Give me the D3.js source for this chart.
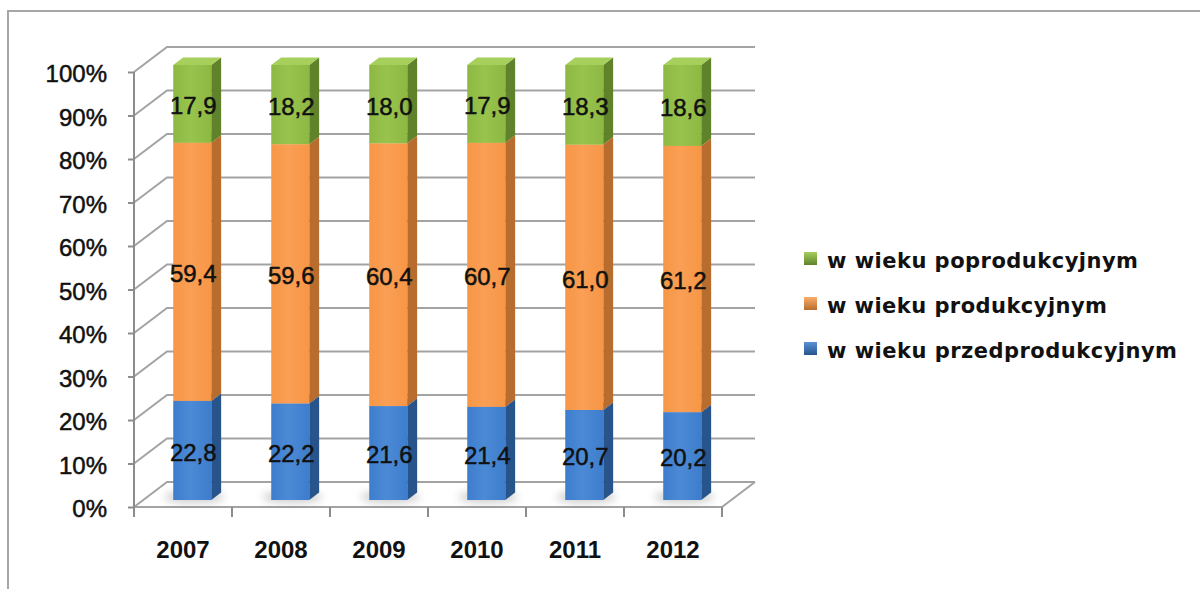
<!DOCTYPE html>
<html>
<head>
<meta charset="utf-8">
<script src="https://cdn.jsdelivr.net/npm/d3@7"></script>
<style>
  body { margin: 0; background: #fff; }
  svg { display: block; }
</style>
</head>
<body>
<div id="chart"></div>
<script>
// data
var years = ["2007", "2008", "2009", "2010", "2011", "2012"];
var przedprodukcyjny = [22.8, 22.2, 21.6, 21.4, 20.7, 20.2];
var produkcyjny = [59.4, 59.6, 60.4, 60.7, 61.0, 61.2];
var poprodukcyjny = [17.9, 18.2, 18.0, 17.9, 18.3, 18.6];
var seriesNames = ["w wieku przedprodukcyjnym", "w wieku produkcyjnym", "w wieku poprodukcyjnym"];
var yTicks = [0, 10, 20, 30, 40, 50, 60, 70, 80, 90, 100];

var W = 1200, H = 589;
var depthX = 33, depthY = 25;        // full floor depth
var barDepthStart = 0.28, barDepth = 0.3;

var colors = [
  { front: "#3d7dcc", light: "#4c8ad6", side: "#28548c", top: "#5a93d8" },
  { front: "#f79646", light: "#fa9f55", side: "#b86d2e", top: "#fbad6c" },
  { front: "#8cb843", light: "#98c44e", side: "#5f822a", top: "#a6cf5c" }
];

var svg = d3.select("#chart").append("svg")
    .attr("width", W)
    .attr("height", H)
    .style("font-family", "'Liberation Sans', Arial, sans-serif");

var defs = svg.append("defs");
defs.append("filter").attr("id", "blur")
    .attr("x", "-50%").attr("y", "-50%").attr("width", "200%").attr("height", "200%")
    .append("feGaussianBlur").attr("stdDeviation", 4);

colors.forEach(function (c, i) {
  var g = defs.append("linearGradient").attr("id", "front" + i)
      .attr("x1", 0).attr("x2", 1).attr("y1", 0).attr("y2", 0);
  g.append("stop").attr("offset", "0%").attr("stop-color", c.front);
  g.append("stop").attr("offset", "45%").attr("stop-color", c.light);
  g.append("stop").attr("offset", "100%").attr("stop-color", c.front);
  var l = defs.append("linearGradient").attr("id", "leg" + i)
      .attr("x1", 0).attr("x2", 0).attr("y1", 0).attr("y2", 1);
  l.append("stop").attr("offset", "0%").attr("stop-color", c.top);
  l.append("stop").attr("offset", "100%").attr("stop-color", c.side);
});

// outer frame
svg.append("rect")
    .attr("x", 8).attr("y", 11)
    .attr("width", W + 20).attr("height", H + 20)
    .attr("fill", "none")
    .attr("stroke", "#a6a6a6")
    .attr("stroke-width", 2);

// scales for the front plane
var x = d3.scaleBand().domain(years).range([134, 722]);
var y = d3.scaleLinear().domain([0, 100]).range([507, 72]);

function shift(d) { return [d * depthX, -d * depthY]; }
var back = shift(1);

// walls
var grid = svg.append("g").attr("stroke", "#a3a3a3").attr("stroke-width", 2).attr("fill", "none");
yTicks.forEach(function (t) {
  grid.append("path")
      .attr("d", "M" + x.range()[0] + "," + y(t) +
                 "L" + (x.range()[0] + back[0]) + "," + (y(t) + back[1]) +
                 "L" + (x.range()[1] + back[0]) + "," + (y(t) + back[1]));
});
// floor front + right edge
grid.append("path")
    .attr("d", "M" + x.range()[0] + "," + y(0) + "L" + x.range()[1] + "," + y(0) +
               "L" + (x.range()[1] + back[0]) + "," + (y(0) + back[1]));

// y axis on the front left edge
var yAxis = svg.append("g")
    .attr("transform", "translate(" + x.range()[0] + ",0)")
    .call(d3.axisLeft(y).tickValues(yTicks).tickFormat(function (d) { return d + "%"; })
        .tickSize(6).tickSizeOuter(0).tickPadding(21));
yAxis.select(".domain").attr("stroke", "#8c8c8c").attr("stroke-width", 2)
    .attr("d", "M0," + y(100) + "V" + (y(0) + 10));
yAxis.selectAll(".tick line").attr("stroke", "#8c8c8c").attr("stroke-width", 2);
yAxis.selectAll(".tick text")
    .attr("font-size", 24)
    .attr("fill", "#111")
    .attr("stroke", "#111")
    .attr("stroke-width", 0.5)
    .attr("dy", "0.4em")
    .style("font-family", "'Liberation Sans', Arial, sans-serif");

// x axis: ticks on the category boundaries, labels in the middle
var xAxis = svg.append("g");
var bounds = years.map(function (d) { return x(d); }).concat([x.range()[1]]);
xAxis.selectAll("line").data(bounds).enter().append("line")
    .attr("x1", function (d) { return d; }).attr("x2", function (d) { return d; })
    .attr("y1", y(0)).attr("y2", y(0) + 10)
    .attr("stroke", "#8c8c8c").attr("stroke-width", 2);
xAxis.selectAll("text").data(years).enter().append("text")
    .attr("x", function (d) { return x(d) + x.bandwidth() / 2; })
    .attr("y", 558)
    .attr("text-anchor", "middle")
    .attr("font-size", 24)
    .attr("font-weight", "bold")
    .attr("fill", "#111")
    .text(function (d) { return d; });

// stacked bars
var rows = years.map(function (yr, i) {
  var vals = [przedprodukcyjny[i], produkcyjny[i], poprodukcyjny[i]];
  var total = d3.sum(vals);
  var acc = 0;
  return vals.map(function (v, s) {
    var seg = { year: yr, s: s, v: v, y0: acc / total * 100, y1: (acc + v) / total * 100 };
    acc += v;
    return seg;
  });
});

var bw = 38;
var off = shift(barDepthStart), dep = shift(barDepth);

// floor shadows
svg.append("g").selectAll("ellipse").data(years).enter().append("ellipse")
    .attr("cx", function (d) { return x(d) + x.bandwidth() / 2 + off[0] + 2; })
    .attr("cy", y(0) + off[1] - 3)
    .attr("rx", 30).attr("ry", 6)
    .attr("fill", "#000").attr("opacity", 0.2)
    .attr("filter", "url(#blur)");

var bars = svg.append("g");
rows.forEach(function (segs) {
  segs.forEach(function (d) {
    var c = colors[d.s];
    var x0 = x(d.year) + x.bandwidth() / 2 + off[0] - bw / 2, x1 = x0 + bw;
    var yb = y(d.y0) + off[1], yt = y(d.y1) + off[1];
    var g = bars.append("g");
    // side
    g.append("path")
        .attr("d", "M" + x1 + "," + yb + "L" + (x1 + dep[0]) + "," + (yb + dep[1]) +
                   "L" + (x1 + dep[0]) + "," + (yt + dep[1]) + "L" + x1 + "," + yt + "Z")
        .attr("fill", c.side);
    // top
    g.append("path")
        .attr("d", "M" + x0 + "," + yt + "L" + x1 + "," + yt +
                   "L" + (x1 + dep[0]) + "," + (yt + dep[1]) + "L" + (x0 + dep[0]) + "," + (yt + dep[1]) + "Z")
        .attr("fill", c.top);
    // front
    g.append("rect")
        .attr("x", x0).attr("y", yt)
        .attr("width", bw).attr("height", yb - yt)
        .attr("fill", "url(#front" + d.s + ")");
  });
});

// value labels
rows.forEach(function (segs) {
  segs.forEach(function (d) {
    bars.append("text")
        .attr("x", x(d.year) + x.bandwidth() / 2 + off[0] + 1)
        .attr("y", (y(d.y0) + y(d.y1)) / 2 + off[1] + 2)
        .attr("dy", "0.35em")
        .attr("text-anchor", "middle")
        .attr("font-size", 24)
        .attr("fill", "#111")
        .attr("stroke", "#111")
        .attr("stroke-width", 0.5)
        .text(d3.format(".1f")(d.v).replace(".", ","));
  });
});

// legend
var legendWidths = [350, 280, 311];
var legend = svg.append("g");
[2, 1, 0].forEach(function (s, i) {
  var ly = 268 + i * 45;
  legend.append("rect")
      .attr("x", 804).attr("y", ly - 16)
      .attr("width", 13).attr("height", 13)
      .attr("fill", "url(#leg" + s + ")");
  legend.append("text")
      .attr("x", 827).attr("y", ly)
      .attr("font-size", 21)
      .attr("font-weight", "bold")
      .attr("fill", "#111")
      .attr("textLength", legendWidths[s])
      .attr("lengthAdjust", "spacing")
      .style("font-family", "'DejaVu Sans', sans-serif")
      .text(seriesNames[s]);
});
</script>
</body>
</html>
